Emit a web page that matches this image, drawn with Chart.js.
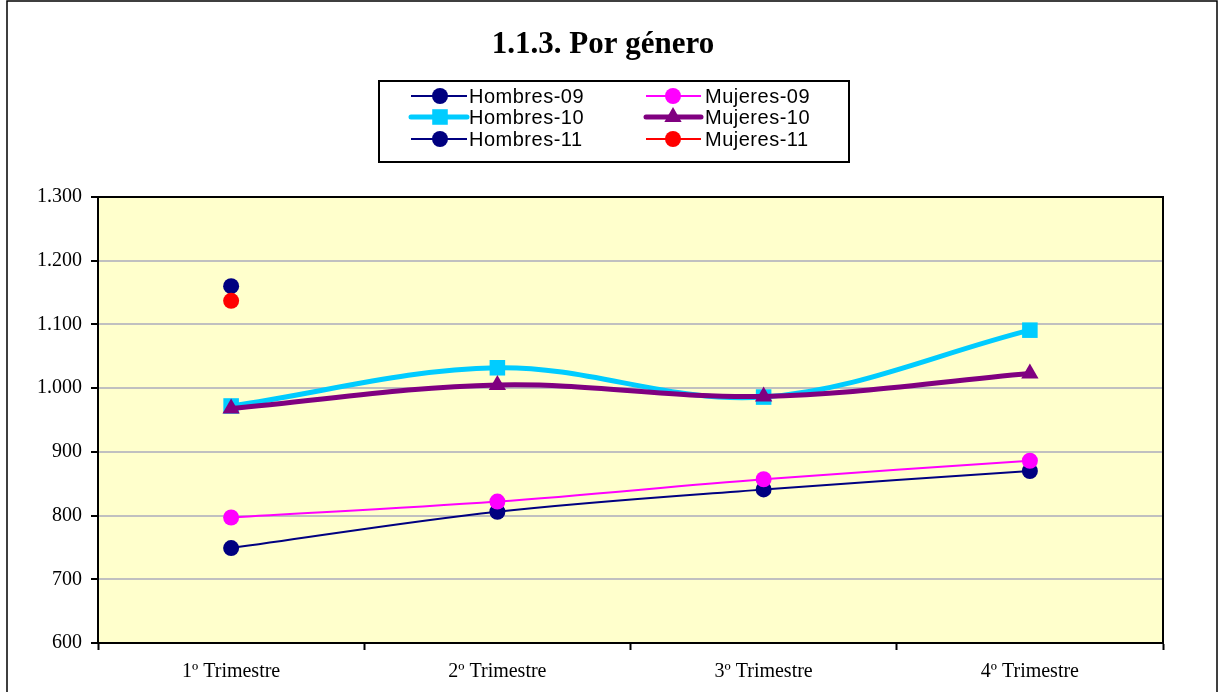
<!DOCTYPE html>
<html>
<head>
<meta charset="utf-8">
<script src="https://cdn.jsdelivr.net/npm/chart.js@4"></script>
<style>
  html, body { margin: 0; padding: 0; background: #fff; }
  #wrap { width: 1222px; height: 692px; }
</style>
</head>
<body>
<div id="wrap"><canvas id="chart" width="1222" height="692"></canvas></div>
<script>
const categories = ["1º Trimestre", "2º Trimestre", "3º Trimestre", "4º Trimestre"];
const hombres09 = [749, 806, 841, 870];
const mujeres09 = [797, 822, 857, 886];
const hombres10 = [972, 1032, 986, 1091];
const mujeres10 = [968, 1005, 987, 1023];
const hombres11 = [1160, null, null, null];
const mujeres11 = [1137, null, null, null];
const yTicks = [600, 700, 800, 900, 1000, 1100, 1200, 1300];

function fmt(v) {
  if (v < 1000) return String(v);
  return Math.floor(v / 1000) + "." + String(v % 1000).padStart(3, "0");
}

function series(label, data, color, width, style, radius, order) {
  return {
    label, data, order,
    borderColor: color,
    backgroundColor: color,
    borderWidth: width,
    pointStyle: style,
    pointRadius: radius,
    pointHoverRadius: radius,
    pointBorderWidth: 0,
    pointBackgroundColor: color,
    tension: 0.35,
  };
}

const datasets = [
  series("Hombres-09", hombres09, "#000080", 2, "circle", 8, 6),
  series("Mujeres-09", mujeres09, "#FF00FF", 2, "circle", 8, 5),
  series("Hombres-10", hombres10, "#00CCFF", 5, "rect", 11, 4),
  series("Mujeres-10", mujeres10, "#800080", 5, "triangle", 10, 3),
  series("Hombres-11", hombres11, "#000080", 2, "circle", 8, 2),
  series("Mujeres-11", mujeres11, "#FF0000", 2, "circle", 8, 1),
];

const framePlugin = {
  id: "frame",
  beforeDraw(chart) {
    const { ctx, chartArea: a } = chart;
    ctx.save();
    ctx.fillStyle = "#fff";
    ctx.fillRect(0, 0, chart.width, chart.height);
    ctx.fillStyle = "#FFFFCC";
    ctx.fillRect(a.left, a.top, a.right - a.left, a.bottom - a.top);
    ctx.restore();
  },
  afterDraw(chart) {
    const { ctx, chartArea: a } = chart;
    ctx.save();
    // plot area border top/right
    ctx.strokeStyle = "#000";
    ctx.lineWidth = 2;
    ctx.beginPath();
    ctx.moveTo(a.left, a.top);
    ctx.lineTo(a.right, a.top);
    ctx.lineTo(a.right, a.bottom);
    ctx.stroke();
    // outer border
    ctx.lineWidth = 1.5;
    ctx.strokeRect(7, 1, 1210, 700);

    // title
    ctx.fillStyle = "#000";
    ctx.font = "bold 31px 'Liberation Serif', 'Times New Roman', serif";
    ctx.textAlign = "center";
    ctx.textBaseline = "alphabetic";
    ctx.fillText("1.1.3. Por género", 603, 53);

    // legend
    ctx.lineWidth = 2;
    ctx.strokeStyle = "#000";
    ctx.strokeRect(379, 81, 470, 81);
    const cols = [{ x0: 411, x1: 467, mx: 440, tx: 469 }, { x0: 646, x1: 701, mx: 673, tx: 705 }];
    const rows = [96, 117, 139];
    ctx.font = "20px 'Liberation Sans', Arial, sans-serif";
    ctx.letterSpacing = "0.5px";
    ctx.textAlign = "left";
    ctx.textBaseline = "middle";
    chart.data.datasets.forEach((ds, i) => {
      const c = cols[i % 2], y = rows[Math.floor(i / 2)];
      ctx.strokeStyle = ds.borderColor;
      ctx.lineWidth = ds.borderWidth;
      ctx.lineCap = ds.borderWidth > 3 ? "round" : "butt";
      ctx.beginPath();
      ctx.moveTo(c.x0, y);
      ctx.lineTo(c.x1, y);
      ctx.stroke();
      ctx.fillStyle = ds.pointBackgroundColor;
      ctx.strokeStyle = ds.pointBackgroundColor;
      Chart.helpers.drawPoint(ctx, { pointStyle: ds.pointStyle, radius: ds.pointRadius, rotation: 0, borderWidth: 0 }, c.mx, y);
      ctx.fillStyle = "#000";
      ctx.fillText(ds.label, c.tx, y + 1);
    });
    ctx.restore();
  },
};

new Chart(document.getElementById("chart"), {
  type: "line",
  data: { labels: categories, datasets },
  options: {
    responsive: false,
    animation: false,
    events: [],
    layout: { padding: { left: 0, top: 197, right: 59, bottom: 0 } },
    plugins: { legend: { display: false }, title: { display: false }, tooltip: { enabled: false } },
    scales: {
      x: {
        offset: true,
        afterFit(scale) { scale.height = 49; },
        grid: { offset: true, drawOnChartArea: false, tickLength: 7, tickColor: "#000", tickWidth: 2 },
        border: { color: "#000", width: 2 },
        ticks: {
          color: "#000",
          padding: 10,
          maxRotation: 0,
          font: { family: "'Liberation Serif', 'Times New Roman', serif", size: 20 },
        },
      },
      y: {
        min: 600,
        max: 1300,
        afterFit(scale) { scale.width = 98; },
        afterBuildTicks(scale) { scale.ticks = yTicks.map(v => ({ value: v })); },
        grid: { color: "#C0C0C0", lineWidth: 2, tickLength: 7, tickColor: "#000", tickWidth: 2 },
        border: { color: "#000", width: 2 },
        ticks: {
          color: "#000",
          padding: 9,
          callback: v => fmt(v),
          font: { family: "'Liberation Serif', 'Times New Roman', serif", size: 20 },
        },
      },
    },
  },
  plugins: [framePlugin],
});
</script>
</body>
</html>
